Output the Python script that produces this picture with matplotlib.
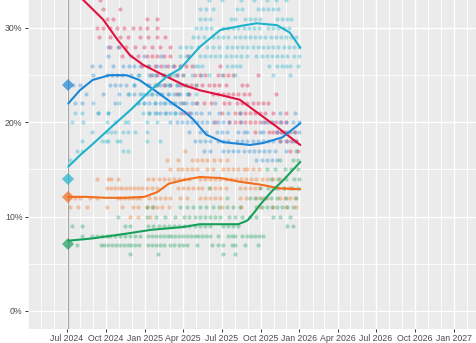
import numpy as np
import pandas as pd
import matplotlib
matplotlib.use("Agg")
import matplotlib.pyplot as plt
import matplotlib.dates as mdates
from matplotlib.ticker import FixedLocator, FuncFormatter

plt.rcParams['font.family'] = ['Liberation Sans', 'DejaVu Sans']

# poll points: {vote share %: [months since 1 Jul 2024]}
lab_rows = {
    36: [0.3, 0.9], 35: [0.5, 1.2, 1.7], 34: [0.8, 1.5, 2.0],
    33: [2.56], 32: [2.8, 4.1], 31: [3.1, 3.6, 6.2, 7.0],
    30: [2.3, 2.8, 3.3, 3.9, 4.4, 5.1, 5.7, 6.2, 7.0],
    29: [2.5, 3.3, 4.1, 4.7, 5.7, 6.3, 7.0, 7.6],
    28: [3.3, 4.0, 4.6, 5.3, 6.0, 6.6, 7.2, 8.0],
    27: [4.3, 5.5, 6.2, 6.6, 7.0, 7.5, 8.0, 9.4],
    26: [5.8, 6.3, 6.8, 7.3, 7.8, 8.3, 8.8, 9.2, 9.7, 11.9],
    25: [6.5, 7.0, 7.5, 8.0, 8.5, 9.0, 9.9, 10.3, 10.7, 11.7, 12.1, 12.5, 12.9, 14.8],
    24: [7.0, 7.5, 8.0, 8.8, 9.2, 9.6, 10.0, 10.5, 11.0, 11.4, 11.8, 12.3, 13.6, 14.0],
    23: [8.5, 9.5, 11.3, 11.7, 12.1, 12.5, 12.9, 13.3, 13.7, 14.1, 16.2],
    22: [9.0, 10.0, 10.6, 11.2, 12.2, 12.6, 13.2, 13.6, 14.0, 14.4, 14.8, 15.2, 15.6],
    21: [9.0, 9.5, 12.0, 13.0, 13.4, 13.8, 14.2, 14.6, 15.0, 15.4, 16.0, 17.0],
    20: [11.5, 12.6, 13.0, 13.4, 13.8, 14.2, 14.6, 15.0, 15.4, 15.8, 16.2, 16.6, 17.0],
    19: [14.6, 15.7, 16.0, 16.3, 16.6, 16.9, 17.3, 17.7],
    18: [16.5, 17.0, 17.4, 17.8],
    17: [17.3, 17.9],
}
con_rows = {
    28: [3.2, 3.95], 27: [3.2, 5.0, 6.0, 7.3],
    26: [1.94, 2.56, 3.57, 4.34, 4.8, 5.2, 5.66, 6.4, 7.0, 7.6, 8.2],
    25: [2.0, 3.1, 3.5, 3.9, 4.3, 5.0, 5.6, 6.4, 6.9, 7.4, 7.9, 8.5],
    24: [0.46, 1.0, 3.3, 3.7, 4.1, 4.6, 5.2, 6.4, 6.8, 7.2, 7.6, 8.0, 8.5, 9.0],
    23: [1.5, 2.8, 4.0, 4.7, 5.2, 5.7, 6.2, 6.6, 7.0, 7.4, 7.8, 8.3, 8.8, 9.4],
    22: [0.62, 1.16, 3.72, 5.5, 6.0, 6.4, 6.8, 7.2, 7.6, 8.0, 8.4, 8.8, 9.2, 9.7, 10.1, 11.5],
    21: [2.4, 3.2, 6.4, 6.8, 7.2, 7.6, 8.0, 8.4, 8.8, 9.2, 9.6, 10.0, 10.4, 11.0, 11.8, 12.5, 13.4, 16.5, 17.7],
    20: [8.0, 8.5, 8.9, 9.3, 9.7, 10.1, 10.5, 10.9, 11.3, 11.7, 12.1, 12.6, 13.5, 15.2, 15.6, 16.0, 16.5, 17.0, 17.5, 18.0],
    19: [9.5, 10.3, 10.8, 11.6, 12.0, 12.4, 13.3, 13.7, 14.0, 15.0, 15.2, 16.3, 16.7, 17.1, 17.6, 18.0],
    18: [9.9, 10.3, 10.7, 11.1, 11.7, 12.1, 12.5, 13.2, 13.6, 14.0, 14.4, 14.8, 15.2, 15.6, 16.0, 16.5, 17.1, 17.5, 17.8],
    17: [10.6, 11.1, 12.1, 12.5, 12.9, 13.3, 13.7, 14.1, 14.5, 14.9, 15.3, 15.7, 16.1, 17.0],
    16: [14.7, 15.1, 15.5, 15.9, 16.3],
}
ref_rows = {
    35: [14.5], 34: [12.5, 14.0, 15.0, 16.0],
    33: [11.0, 12.0, 13.5, 14.5, 15.5, 16.2, 17.0],
    32: [10.3, 10.8, 11.3, 13.2, 13.6, 14.8, 15.2, 15.6, 16.0, 16.4],
    31: [10.3, 10.7, 11.1, 12.7, 13.0, 13.8, 14.2, 14.6, 15.0, 16.3, 16.7, 17.1, 17.4],
    30: [10.0, 10.4, 10.8, 11.2, 12.1, 12.5, 12.9, 13.3, 13.7, 14.1, 14.5, 14.9, 15.6, 16.0, 16.4, 16.8, 17.2],
    29: [9.8, 10.2, 10.6, 11.3, 11.7, 12.1, 12.5, 13.0, 13.4, 13.8, 14.2, 14.6, 15.0, 15.4, 15.8, 16.2, 16.6, 17.0, 17.4, 17.8],
    28: [8.8, 9.2, 9.6, 10.2, 10.9, 11.3, 11.8, 12.4, 12.8, 13.2, 13.6, 14.0, 14.4, 14.8, 15.2, 15.6, 16.0, 16.4, 16.8, 17.2, 17.6, 18.0],
    27: [8.8, 9.2, 9.5, 10.3, 10.7, 11.1, 11.5, 11.9, 12.3, 12.7, 13.1, 13.5, 14.0, 14.7, 15.1, 15.5, 15.9, 16.3, 16.7, 17.1, 17.6, 18.0],
    26: [8.8, 9.9, 10.2, 10.5, 12.4, 12.8, 13.1, 13.4, 15.7, 16.3, 16.7, 17.0, 17.3, 17.9],
    25: [5.5, 6.7, 7.5, 8.3, 9.0, 9.7, 10.4, 11.0, 12.0, 13.0, 16.0, 17.3],
    24: [5.2, 6.2, 7.0, 7.8, 8.5, 9.2, 10.0],
    23: [4.8, 5.9, 6.5, 7.2, 7.9, 8.6, 9.3, 10.0],
    22: [2.0, 4.0, 5.5, 6.0, 6.8, 7.5, 8.2, 9.0],
    21: [0.6, 1.2, 2.4, 3.2, 5.9, 6.4, 7.0, 7.7, 8.4],
    20: [0.39, 1.24, 3.1, 3.72, 4.5, 4.73, 6.2, 7.0],
    19: [1.94, 3.1, 3.4, 3.7, 4.34, 4.7, 5.27, 6.2],
    18: [1.16, 2.7, 3.0, 3.2, 3.9, 4.1, 6.2, 7.2],
    17: [0.78, 1.16, 4.34, 4.7],
    16: [0.23],
}
ld_rows = {
    17: [9.15],
    16: [7.75, 8.6, 9.7, 10.1, 10.5, 10.9, 11.4, 11.9, 12.4],
    15: [8.0, 8.6, 8.9, 9.3, 9.7, 10.1, 10.85, 11.3, 12.1, 12.5, 12.9, 13.3, 13.7, 14.0, 14.4, 14.9],
    14: [2.33, 3.18, 3.4, 3.95, 6.3, 6.7, 7.1, 7.5, 7.9, 8.3, 8.7, 9.1, 9.5, 10.3, 10.7, 11.1, 11.5, 11.9,
         12.3, 12.7, 13.1, 13.5, 13.9, 14.3, 14.7, 15.1, 15.5, 16.0, 16.5],
    13: [3.1, 3.4, 3.7, 4.0, 4.3, 4.6, 4.9, 5.2, 5.5, 5.8, 6.2, 6.6, 7.0, 8.6, 9.0, 9.4, 9.8, 10.2, 10.5,
         11.1, 11.5, 11.9, 12.3, 13.4, 13.8, 14.2, 14.6, 15.0, 16.0, 16.4, 16.8, 17.2, 17.5],
    12: [0.6, 1.0, 1.8, 2.3, 3.95, 4.2, 4.5, 4.8, 5.1, 5.4, 5.7, 6.4, 6.8, 7.2, 7.6, 8.0, 8.8, 9.3, 10.3,
         10.7, 11.1, 11.5, 11.9, 13.4, 13.9, 14.7, 15.1, 15.5, 16.5, 16.9, 17.3, 17.7],
    11: [0.23, 0.85, 1.55, 3.1, 4.26, 5.1, 5.5, 6.2, 6.6, 7.0, 7.4, 7.9, 12.0, 13.5, 15.0, 16.0, 17.0, 17.8],
    10: [4.88, 5.5, 6.43],
}
grn_rows = {
    17: [17.8], 16: [16.5, 17.5, 17.9], 15: [15.5, 16.1, 16.9, 17.4, 17.9],
    14: [15.8, 16.4, 17.0, 17.6, 18.0], 13: [11.0, 15.0, 15.6, 16.2, 16.8, 17.4, 17.9],
    12: [12.4, 14.2, 14.6, 15.0, 15.4, 15.8, 16.3, 17.0, 17.8],
    11: [6.2, 6.67, 8.8, 9.3, 9.8, 10.3, 10.8, 11.3, 11.8, 12.4, 12.9, 13.4, 14.7, 15.1, 15.5, 15.9, 16.3, 16.7, 17.1, 17.5],
    10: [3.95, 6.2, 6.9, 7.6, 8.4, 9.1, 9.5, 9.9, 10.3, 10.7, 11.1, 11.5, 11.9, 12.6, 13.0, 13.6, 14.2, 14.7, 16.0, 16.5, 17.3],
    9: [0.39, 1.16, 4.5, 4.9, 6.3, 6.7, 7.1, 7.5, 7.9, 8.3, 8.7, 9.1, 9.5, 9.9, 10.3, 10.7, 11.1, 12.1, 12.5, 12.9, 13.26, 17.05, 17.5],
    8: [1.16, 1.94, 2.33, 2.71, 3.1, 3.33, 3.72, 4.1, 4.5, 4.88, 5.27, 5.66, 6.3, 6.6, 6.9, 7.2, 7.5, 7.8, 8.1, 8.4,
        8.7, 9.0, 9.3, 9.6, 9.9, 10.2, 10.5, 10.8, 11.1, 11.7, 12.5, 12.8, 13.0, 13.57, 14.0, 14.3, 14.6, 14.9, 15.2],
    7: [0.78, 2.6, 2.9, 3.2, 3.5, 3.8, 4.1, 4.4, 4.7, 5.0, 5.3, 5.6, 6.3, 6.6, 6.9, 7.2, 7.5, 8.0, 8.3, 8.7, 9.0,
        9.3, 10.1, 11.24, 11.7, 12.1, 12.8, 13.0, 13.8, 14.8],
    6: [4.9, 7.05, 12.1, 13.0],
}

# smoothed trend (months since 1 Jul 2024, %)
lab_trend_m = [0.1, 1.24, 2.8, 3.95, 4.9, 5.9, 7.2, 9.15, 10.3, 11.9, 13.4, 15.0, 16.3, 18.1]
lab_trend_v = [34.8, 33.0, 30.9, 28.7, 27.1, 26.1, 25.2, 23.9, 23.4, 22.9, 22.4, 20.8, 19.5, 17.6]
con_trend_m = [0.1, 1.0, 2.0, 3.3, 4.6, 5.6, 7.0, 8.2, 9.15, 9.8, 10.8, 12.1, 14.2, 15.2, 16.7, 18.1]
con_trend_v = [22.0, 23.4, 24.5, 25.0, 25.0, 24.5, 23.2, 22.0, 21.1, 20.3, 18.7, 17.9, 17.6, 17.8, 18.4, 19.9]
ref_trend_m = [0.1, 1.0, 2.0, 3.6, 5.0, 6.4, 7.8, 8.8, 10.3, 11.9, 13.4, 14.7, 16.3, 17.3, 18.1]
ref_trend_v = [15.3, 16.5, 17.7, 19.7, 21.4, 23.3, 24.9, 25.7, 28.0, 29.8, 30.2, 30.5, 30.3, 29.5, 27.9]
ld_trend_m = [0.1, 1.5, 3.0, 4.5, 6.0, 7.0, 7.9, 9.1, 10.3, 11.9, 13.4, 15.0, 16.5, 18.1]
ld_trend_v = [12.1, 12.1, 12.0, 12.0, 12.1, 12.6, 13.5, 13.9, 14.2, 14.1, 13.7, 13.4, 13.0, 12.9]
grn_trend_m = [0.1, 2.0, 4.6, 6.5, 9.0, 10.3, 12.5, 13.3, 14.0, 14.5, 15.0, 15.9, 16.8, 18.1]
grn_trend_v = [7.45, 7.7, 8.2, 8.6, 8.9, 9.2, 9.2, 9.2, 9.6, 10.4, 11.3, 12.7, 13.9, 15.8]

# 2024 general election result (as placed on the chart)
election_v = [33.7, 24.0, 14.0, 12.1, 7.1]

colours = ['#E0113F', '#1C86D6', '#1DB3CD', '#F26D1C', '#17A05A']
party_rows = [lab_rows, con_rows, ref_rows, ld_rows, grn_rows]
party_trends = [(lab_trend_m, lab_trend_v), (con_trend_m, con_trend_v), (ref_trend_m, ref_trend_v),
                (ld_trend_m, ld_trend_v), (grn_trend_m, grn_trend_v)]

base = pd.Timestamp('2024-07-01')
election_day = pd.Timestamp('2024-07-04')


def to_date(months):
    return base + pd.to_timedelta(np.asarray(months, dtype=float) * 30.44, unit='D')


W, H = 476, 343
fig = plt.figure(figsize=(W / 100, H / 100), dpi=100)
# panel extends beyond the top and right of the image (cropped view)
left_px, bottom_px, right_px, top_px = 28, 328.5, 560, -35
ax = fig.add_axes([left_px / W, (H - bottom_px) / H, (right_px - left_px) / W, (bottom_px - top_px) / H])

px_per_day = 387 / 914
px_per_pct = (311 - 28) / 30
x0 = mdates.date2num(base)
ax.set_xlim(x0 - (67 - left_px) / px_per_day, x0 + (right_px - 67) / px_per_day)
ax.set_ylim(-(bottom_px - 311) / px_per_pct, (311 - top_px) / px_per_pct)

ax.set_facecolor('#EBEBEB')
for s in ax.spines.values():
    s.set_visible(False)

quarters = pd.date_range('2024-07-01', '2027-01-01', freq='QS-JAN')
months = pd.date_range('2024-01-01', '2027-12-01', freq='MS')
ax.xaxis.set_major_locator(FixedLocator(mdates.date2num(quarters)))
ax.xaxis.set_minor_locator(FixedLocator(mdates.date2num(months)))
ax.xaxis.set_major_formatter(mdates.DateFormatter('%b %Y'))
ax.yaxis.set_major_locator(FixedLocator([0, 10, 20, 30]))
ax.yaxis.set_minor_locator(FixedLocator([5, 15, 25, 35]))
ax.yaxis.set_major_formatter(FuncFormatter(lambda v, p: f"{v:.0f}%"))

ax.grid(which='major', color='white', linewidth=1.0)
ax.grid(which='minor', color='white', linewidth=0.6)
ax.set_axisbelow(True)
ax.tick_params(which='major', length=2.5, width=0.7, color='#333333', labelsize=6.3,
               labelcolor='#4D4D4D', pad=1.5)
ax.tick_params(which='minor', length=0)

ax.axvline(election_day, color='#A6A6A6', linewidth=0.9, zorder=1)

for rows, col in zip(party_rows, colours):
    xs, ys = [], []
    for v, ms in rows.items():
        xs.extend(ms)
        ys.extend([v] * len(ms))
    ax.scatter(to_date(xs), ys, s=9, color=col, alpha=0.35, linewidths=0, zorder=2)

for (tm, tv), col in zip(party_trends, colours):
    ax.plot(to_date(tm), tv, color=col, linewidth=1.5, zorder=3, solid_capstyle='round')

for v, col in zip(election_v, colours):
    ax.plot([election_day], [v], marker='D', markersize=6, color=col, alpha=0.7,
            markeredgewidth=0, zorder=4)

fig.savefig('out.png', dpi=100)
